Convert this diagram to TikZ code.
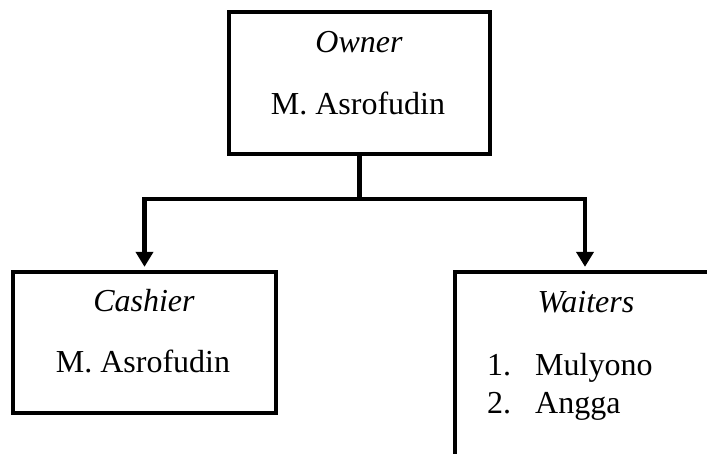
\documentclass[tikz,border=0pt]{standalone}
\usepackage{fontspec}
\setmainfont{Liberation Serif}
\usetikzlibrary{arrows.meta}
\begin{document}
\begin{tikzpicture}[x=1pt,y=-1pt,
  box/.style={draw, line width=4.3pt, rectangle, inner sep=0pt},
  txt/.style={anchor=base, inner sep=0pt, font=\fontsize{32}{38}\selectfont},
  conn/.style={line width=4.3pt, line join=miter},
  arr/.style={conn, -{Triangle[width=17pt,length=15pt]}, shorten >=3pt}]
\clip (0,0) rectangle (707,454);
\node[box, minimum width=261pt, minimum height=142pt] (owner) at (359.5,83) {};
\node[box, minimum width=263pt, minimum height=141pt] (cashier) at (144.5,342.5) {};
\node[box, minimum width=260pt, minimum height=200pt] (waiters) at (585,372) {};
\node[txt] (ownerT) at (359,53) {\textit{Owner}};
\node[txt] (ownerN) at (358,115) {M. Asrofudin};
\node[txt] (cashT) at (144,312) {\textit{Cashier}};
\node[txt] (cashN) at (143,373) {M. Asrofudin};
\node[txt] (waitT) at (586,313) {\textit{Waiters}};
\node[txt, anchor=base west] (w1n) at (487,375) {1.};
\node[txt, anchor=base west] (w1) at (535,375) {Mulyono};
\node[txt, anchor=base west] (w2n) at (487,413) {2.};
\node[txt, anchor=base west] (w2) at (535,413) {Angga};
\coordinate (j) at (owner.south |- 0,199);
\draw[conn] (owner.south) -- (j);
\draw[arr] (j) -| (cashier.north);
\draw[arr] (j) -| (waiters.north);
\end{tikzpicture}
\end{document}
